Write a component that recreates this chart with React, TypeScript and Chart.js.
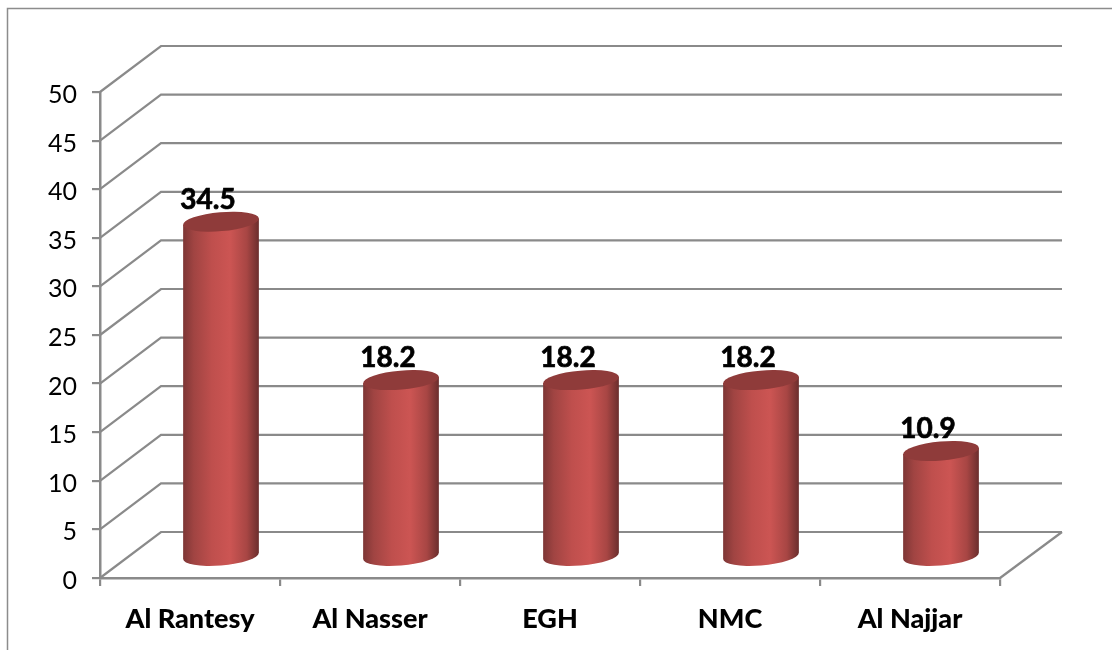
import React, { useEffect, useRef } from "react";
import { Chart, registerables } from "chart.js";

Chart.register(...registerables);

const categories = ["Al Rantesy", "Al Nasser", "EGH", "NMC", "Al Najjar"];
const values = [34.5, 18.2, 18.2, 18.2, 10.9];
const yTicks = [0, 5, 10, 15, 20, 25, 30, 35, 40, 45, 50];

const LINE = "#8a8a8a";
const FONT = "Lato, Carlito, sans-serif";
const DEPTH_X = 61;
const DEPTH_Y = -46;
const BAR_DX = 31;
const BAR_DY = -21;

const cylinderPlugin = {
  id: "cylinder3d",
  beforeDraw(chart: any) {
    const c = chart.ctx;
    c.save();
    c.fillStyle = "#ffffff";
    c.fillRect(0, 0, chart.width, chart.height);
    c.strokeStyle = "#8c8c8c";
    c.lineWidth = 1.5;
    c.beginPath();
    c.moveTo(7.5, chart.height);
    c.lineTo(7.5, 8.5);
    c.lineTo(chart.width, 8.5);
    c.stroke();
    c.restore();
  },
  beforeDatasetsDraw(chart: any) {
    const c = chart.ctx;
    const { left, right } = chart.chartArea;
    const y = chart.scales.y;
    c.save();
    c.strokeStyle = LINE;
    c.lineWidth = 2.2;
    yTicks.forEach((t) => {
      const py = y.getPixelForValue(t);
      c.beginPath();
      c.moveTo(left, py);
      c.lineTo(left + DEPTH_X, py + DEPTH_Y);
      c.lineTo(right + DEPTH_X + 1, py + DEPTH_Y);
      c.stroke();
    });
    const base = y.getPixelForValue(0);
    c.beginPath();
    c.moveTo(right, base);
    c.lineTo(right + DEPTH_X + 1, base + DEPTH_Y);
    c.stroke();
    c.restore();
  },
  afterDatasetsDraw(chart: any) {
    const c = chart.ctx;
    const meta = chart.getDatasetMeta(0);
    const angle = (-5 * Math.PI) / 180;
    meta.data.forEach((bar: any, i: number) => {
      const cx = bar.x + BAR_DX;
      const topY = bar.y + BAR_DY;
      const baseY = bar.base + BAR_DY;
      const rx = bar.width / 2;
      const ry = 9.5;
      const t0 = Math.atan(-(ry / rx) * Math.tan(angle));
      const ex = rx * Math.cos(t0) * Math.cos(angle) - ry * Math.sin(t0) * Math.sin(angle);
      const ey = rx * Math.cos(t0) * Math.sin(angle) + ry * Math.sin(t0) * Math.cos(angle);
      const g = c.createLinearGradient(cx - ex, 0, cx + ex, 0);
      g.addColorStop(0, "#7d3635");
      g.addColorStop(0.14, "#a04442");
      g.addColorStop(0.38, "#bf4f4d");
      g.addColorStop(0.62, "#cc5553");
      g.addColorStop(0.84, "#a84644");
      g.addColorStop(1, "#6b2e2d");
      c.save();
      c.fillStyle = g;
      c.beginPath();
      c.moveTo(cx - ex, topY - ey);
      c.lineTo(cx - ex, baseY - ey);
      c.ellipse(cx, baseY, rx, ry, angle, t0 + Math.PI, t0, true);
      c.lineTo(cx + ex, topY + ey);
      c.closePath();
      c.fill();
      c.fillStyle = "#8f3b3a";
      c.beginPath();
      c.ellipse(cx, topY, rx, ry, angle, 0, Math.PI * 2);
      c.fill();
      c.fillStyle = "#000000";
      c.strokeStyle = "#000000";
      c.lineWidth = 0.7;
      c.font = `bold 28px ${FONT}`;
      c.textAlign = "center";
      c.textBaseline = "middle";
      const label = values[i].toFixed(1);
      c.fillText(label, cx - 13, topY - 22);
      c.strokeText(label, cx - 13, topY - 22);
      c.restore();
    });
  },
};

export default function App() {
  const ref = useRef<HTMLCanvasElement | null>(null);
  useEffect(() => {
    document.body.style.margin = "0";
    const chart = new Chart(ref.current as HTMLCanvasElement, {
      type: "bar",
      data: {
        labels: categories,
        datasets: [
          {
            data: values,
            backgroundColor: "rgba(0,0,0,0)",
            barPercentage: 76 / 180,
            categoryPercentage: 1,
          },
        ],
      },
      options: {
        responsive: false,
        animation: false,
        layout: { padding: { top: 92, right: 112, left: 0, bottom: 0 } },
        plugins: { legend: { display: false }, tooltip: { enabled: false } },
        scales: {
          x: {
            afterFit(s: any) {
              s.height = 72;
            },
            grid: {
              offset: true,
              drawOnChartArea: false,
              drawTicks: true,
              tickLength: 8,
              color: LINE,
              lineWidth: 2.2,
            },
            border: { display: true, color: LINE, width: 2.5 },
            ticks: {
              color: "#000000",
              padding: 17,
              maxRotation: 0,
              font: { family: FONT, size: 27, weight: "900" },
            },
          },
          y: {
            min: 0,
            max: 50,
            afterFit(s: any) {
              s.width = 100;
            },
            grid: {
              drawOnChartArea: false,
              drawTicks: true,
              tickLength: 8,
              color: LINE,
              lineWidth: 2.2,
            },
            border: { display: true, color: LINE, width: 2.5 },
            ticks: {
              stepSize: 5,
              color: "#000000",
              padding: 15,
              labelOffset: 3,
              font: { family: FONT, size: 25 },
            },
          },
        },
      },
      plugins: [cylinderPlugin],
    } as any);
    return () => chart.destroy();
  }, []);
  return <canvas ref={ref} width={1112} height={650} style={{ display: "block" }} />;
}
